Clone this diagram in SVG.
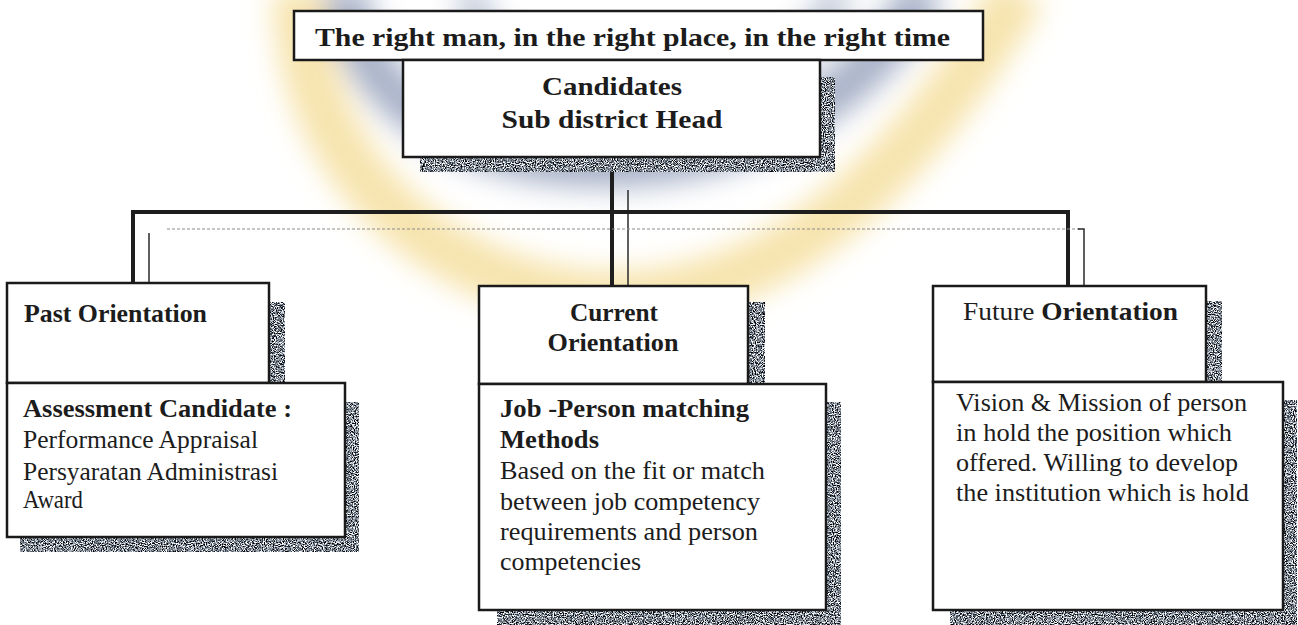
<svg xmlns="http://www.w3.org/2000/svg" width="1298" height="625" viewBox="0 0 1298 625">
<style>
text{font-family:"Liberation Serif","Times New Roman",serif;fill:#1c1c1c;font-size:26px}
.b{font-weight:bold}
.box{fill:#fff;stroke:#1a1a1a;stroke-width:2.5}
.thick{stroke:#1e1e1e;stroke-width:4;fill:none}
.thin{stroke:#2a2a2a;stroke-width:1.5;fill:none}
.dot{stroke:#8a8a8a;stroke-width:1.2;stroke-dasharray:3 2;fill:none}
.sh{fill:#888}
</style>
<defs>
<filter id="grain" x="0" y="0" width="100%" height="100%" color-interpolation-filters="sRGB">
<feTurbulence type="fractalNoise" baseFrequency="0.9" numOctaves="2" seed="5" result="t"/>
<feColorMatrix in="t" type="matrix" values="3 0 0 0 -1.0  3 0 0 0 -0.97  3 0 0 0 -0.93  0 0 0 0 1" result="g"/>
<feComposite in="g" in2="SourceGraphic" operator="in"/>
</filter>
<filter id="blur" x="-20%" y="-20%" width="140%" height="140%"><feGaussianBlur stdDeviation="14"/></filter>
</defs>
<rect width="1298" height="625" fill="#fff"/>
<g id="watermark" filter="url(#blur)" fill="none">
<path d="M300,-10 C300,190 470,300 620,298 C770,296 900,190 1020,-10" stroke="#f4d98c" stroke-width="55" opacity="0.7"/>
<path d="M345,-10 C360,110 480,170 620,165 C760,160 870,90 925,-10" stroke="#9eaac2" stroke-width="45" opacity="0.9"/>
<path d="M470,-10 C480,60 560,110 680,95 C760,85 820,40 840,-10" stroke="#b4bdd0" stroke-width="30" opacity="0.85"/>
</g>
<g id="connectors">
<line class="thick" x1="612" y1="157" x2="612" y2="286"/>
<line class="thin" x1="628" y1="190" x2="628" y2="286"/>
<polyline class="thick" points="133,283 133,212 1068,212 1068,286"/>
<line class="dot" x1="167" y1="229" x2="1082" y2="229"/>
<polyline class="thin" points="149,283 149,233"/>
<polyline class="thin" points="1078,229 1084,229 1084,286"/>
</g>
<g id="banner">
<rect class="box" x="294" y="11" width="689" height="49" stroke-width="2"/>
<text class="b" x="315" y="46" font-size="28" textLength="635" lengthAdjust="spacingAndGlyphs">The right man, in the right place, in the right time</text>
</g>
<g id="candidates">
<g filter="url(#grain)"><rect class="sh" x="820" y="77" width="15" height="95"/><rect class="sh" x="420" y="157" width="415" height="15"/></g>
<rect class="box" x="403" y="60" width="417" height="97"/>
<text class="b" x="612" y="95" font-size="27" text-anchor="middle" textLength="140" lengthAdjust="spacingAndGlyphs">Candidates</text>
<text class="b" x="612" y="128" font-size="27" text-anchor="middle" textLength="221" lengthAdjust="spacingAndGlyphs">Sub district Head</text>
</g>
<g id="past">
<g filter="url(#grain)"><rect class="sh" x="269" y="302" width="16" height="81"/></g>
<rect class="box" x="7" y="283" width="262" height="100"/>
<text class="b" x="24" y="322" textLength="183" lengthAdjust="spacingAndGlyphs">Past Orientation</text>
</g>
<g id="assessment">
<g filter="url(#grain)"><rect class="sh" x="345" y="402" width="14" height="150"/><rect class="sh" x="20" y="537" width="339" height="15"/></g>
<rect class="box" x="7" y="383" width="338" height="154"/>
<text class="b" x="23" y="417" textLength="269" lengthAdjust="spacingAndGlyphs">Assessment Candidate :</text>
<text x="23" y="448" textLength="235" lengthAdjust="spacingAndGlyphs">Performance Appraisal</text>
<text x="23" y="480" textLength="255" lengthAdjust="spacingAndGlyphs">Persyaratan Administrasi</text>
<text x="23" y="508" textLength="60" lengthAdjust="spacingAndGlyphs">Award</text>
</g>
<g id="current">
<g filter="url(#grain)"><rect class="sh" x="748" y="302" width="17" height="82"/></g>
<rect class="box" x="479" y="286" width="269" height="98"/>
<text class="b" x="614" y="321" text-anchor="middle" textLength="88" lengthAdjust="spacingAndGlyphs">Current</text>
<text class="b" x="613" y="351" text-anchor="middle" textLength="131" lengthAdjust="spacingAndGlyphs">Orientation</text>
</g>
<g id="job">
<g filter="url(#grain)"><rect class="sh" x="826" y="402" width="15" height="223"/><rect class="sh" x="497" y="610" width="344" height="15"/></g>
<rect class="box" x="479" y="384" width="347" height="226"/>
<text class="b" x="500" y="417" textLength="249" lengthAdjust="spacingAndGlyphs">Job -Person matching</text>
<text class="b" x="500" y="448" textLength="99" lengthAdjust="spacingAndGlyphs">Methods</text>
<text x="500" y="479" textLength="265" lengthAdjust="spacingAndGlyphs">Based on the fit or match</text>
<text x="500" y="510" textLength="260" lengthAdjust="spacingAndGlyphs">between job competency</text>
<text x="500" y="540" textLength="258" lengthAdjust="spacingAndGlyphs">requirements and person</text>
<text x="500" y="570" textLength="141" lengthAdjust="spacingAndGlyphs">competencies</text>
</g>
<g id="future">
<g filter="url(#grain)"><rect class="sh" x="1206" y="301" width="16" height="81"/></g>
<rect class="box" x="933" y="286" width="273" height="96"/>
<text x="963" y="320" textLength="215" lengthAdjust="spacingAndGlyphs">Future <tspan class="b">Orientation</tspan></text>
</g>
<g id="vision">
<g filter="url(#grain)"><rect class="sh" x="1283" y="400" width="14" height="225"/><rect class="sh" x="950" y="610" width="347" height="15"/></g>
<rect class="box" x="933" y="382" width="350" height="228"/>
<text x="956" y="411" textLength="291" lengthAdjust="spacingAndGlyphs">Vision &amp; Mission of person</text>
<text x="956" y="441" textLength="276" lengthAdjust="spacingAndGlyphs">in hold the position which</text>
<text x="956" y="471" textLength="282" lengthAdjust="spacingAndGlyphs">offered. Willing to develop</text>
<text x="956" y="501" textLength="293" lengthAdjust="spacingAndGlyphs">the institution which is hold</text>
</g>
</svg>
